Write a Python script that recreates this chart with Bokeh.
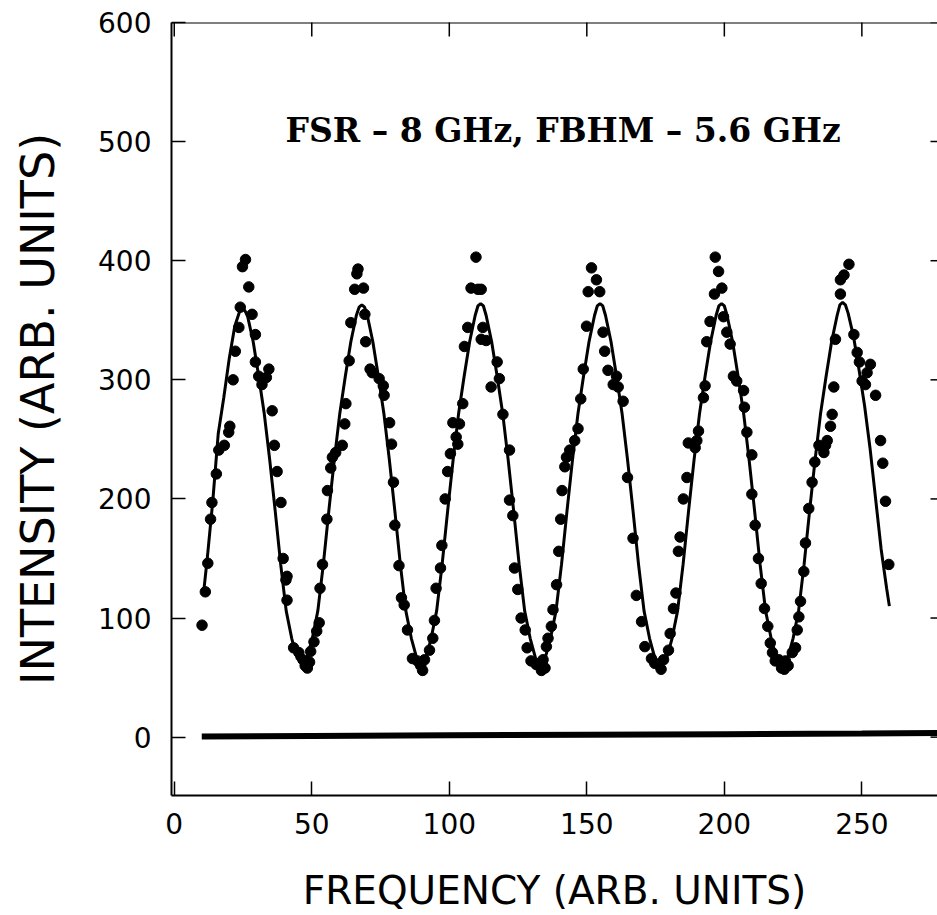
from math import pi
from bokeh.plotting import figure
from bokeh.models import Range1d, Label, FixedTicker, Span
from bokeh.embed import file_html
from bokeh.resources import INLINE

# ---------------- data ----------------
x_ticks = [0, 50, 100, 150, 200, 250]
y_ticks = [0, 100, 200, 300, 400, 500, 600]

# measured intensity (dots)
dots_x = [10.1, 11.3, 12.2, 13.2, 13.7, 15.3, 16.2, 18.2, 19.8, 20.2, 21.4, 22.2, 23.5, 24.0, 24.8, 25.9,
          27.1, 28.3, 29.5, 29.5, 30.7, 31.9, 33.5, 34.4, 35.6, 36.4, 37.4, 38.8, 39.6, 40.6, 41.0, 41.0,
          43.4, 45.3, 46.8, 47.6, 48.4, 49.2, 49.6, 50.8, 51.8, 52.7,
          53.0, 53.9, 55.5, 55.7, 56.9, 57.5, 58.7, 61.1, 62.0, 62.4, 63.6, 64.2, 65.6, 66.4, 66.8, 68.8,
          69.3, 69.6, 71.2, 72.0, 74.5, 76.0, 76.3, 78.3, 79.0, 79.7, 80.2, 81.7, 82.6, 83.6, 84.8, 86.6,
          88.4, 89.6, 90.3, 91.0, 92.8, 94.0, 94.6,
          95.2, 96.8, 97.3, 98.5, 99.4, 100.4, 101.3, 102.5, 103.1, 103.7, 104.9, 105.5, 106.7, 107.9, 109.7,
          110.4, 111.6, 111.6, 112.2, 113.4, 115.2, 117.4, 118.2, 119.5, 121.9, 121.9, 123.1, 123.7, 124.9,
          126.1, 127.6, 128.3, 129.7, 131.6, 132.8, 133.5, 134.1, 134.8, 135.3, 135.9, 137.1, 137.7,
          139.0, 139.8, 140.5, 141.0, 142.0, 142.6, 143.8, 145.6, 146.8, 147.8, 148.7, 149.9, 150.5, 151.7,
          153.5, 154.7, 155.9, 156.5, 157.7, 159.6, 160.8, 161.4, 163.2, 164.8, 166.8, 168.0, 169.9, 171.1,
          173.5, 174.7, 176.0, 177.0, 177.9, 179.7, 180.3,
          181.5, 182.4, 183.3, 183.9, 185.1, 186.4, 186.9, 189.4, 190.0, 190.6, 192.4, 193.0, 193.6, 194.8,
          196.4, 196.7, 197.9, 199.1, 199.7, 200.9, 202.1, 203.3, 204.5, 207.0, 207.3, 208.2, 210.0, 210.0,
          211.2, 212.4, 213.4, 214.6, 215.8, 216.7, 217.5, 218.5, 219.8, 220.8, 221.8, 222.2, 223.2, 224.7,
          225.9, 226.5, 227.1, 227.7,
          228.9, 229.5, 230.7, 231.9, 232.9, 234.4, 236.2, 236.8, 237.4, 238.6, 239.2, 239.8, 240.4, 242.2,
          242.2, 243.5, 245.3, 247.1, 248.3, 249.1, 250.1, 251.3, 251.9, 253.1, 255.0, 256.8, 257.6, 258.6,
          259.8]
dots_y = [94, 122, 146, 183, 197, 221, 241, 245, 256, 261, 300, 324, 344, 361, 395, 401,
          378, 355, 338, 315, 303, 296, 302, 309, 274, 245, 223, 197, 150, 132, 135, 115,
          75, 71, 65, 60, 58, 63, 72, 80, 89, 96,
          125, 145, 183, 207, 226, 235, 239, 245, 263, 280, 316, 348, 376, 389, 393, 377,
          355, 332, 309, 306, 301, 295, 287, 264, 246, 214, 178, 144, 117, 111, 90, 66,
          64, 60, 56, 65, 73, 83, 98,
          125, 142, 161, 200, 223, 238, 264, 252, 246, 263, 280, 328, 344, 377, 403,
          376, 376, 334, 344, 333, 294, 315, 301, 271, 241, 199, 186, 142, 124,
          100, 90, 75, 64, 61, 62, 56, 65, 58, 76, 83, 93, 107,
          128, 156, 183, 207, 227, 235, 241, 249, 259, 284, 309, 345, 374, 394,
          384, 374, 340, 324, 308, 296, 303, 294, 282, 218, 167, 119, 97, 76,
          66, 62, 61, 57, 65, 73, 87,
          108, 121, 156, 168, 200, 218, 247, 243, 249, 257, 285, 295, 332, 349,
          372, 403, 391, 377, 353, 340, 330, 303, 299, 291, 277, 256, 237, 204,
          178, 150, 129, 108, 93, 79, 71, 64, 65, 58, 57, 64, 60, 71,
          75, 90, 101, 114,
          139, 163, 192, 214, 231, 245, 239, 245, 249, 261, 271, 294, 334, 372,
          384, 388, 397, 338, 323, 315, 299, 296, 306, 313, 287, 249, 230, 198,
          145]

# fitted curve (solid line)
fit_x = [10.8, 12.0, 14.0, 16.0, 18.0, 20.0, 22.0, 23.7, 24.7,
         25.7, 26.7, 28.7, 30.7, 32.7, 34.7, 36.7, 38.7, 40.7, 42.7, 44.7, 46.5,
         48.2, 50.2, 52.2, 54.2, 56.2, 58.2, 60.2, 62.2, 64.2, 66.2, 67.2, 68.2,
         69.2, 70.2, 72.2, 74.2, 76.2, 78.2, 80.2, 82.2, 84.2, 86.2, 88.2, 89.8,
         91.4, 93.4, 95.4, 97.4, 99.4, 101.4, 103.4, 105.4, 107.4, 109.4, 110.4, 111.4,
         112.4, 113.4, 115.4, 117.4, 119.4, 121.4, 123.4, 125.4, 127.4, 129.4, 131.4, 133.1,
         134.8, 136.8, 138.8, 140.8, 142.8, 144.8, 146.8, 148.8, 150.8, 152.8, 153.8, 154.8,
         155.8, 156.8, 158.8, 160.8, 162.8, 164.8, 166.8, 168.8, 170.8, 172.8, 174.8, 176.9,
         179.0, 181.0, 183.0, 185.0, 187.0, 189.0, 191.0, 193.0, 195.0, 197.0, 198.0, 199.0,
         200.0, 201.0, 203.0, 205.0, 207.0, 209.0, 211.0, 213.0, 215.0, 217.0, 219.0, 221.0,
         223.0, 225.0, 227.0, 229.0, 231.0, 233.0, 235.0, 237.0, 239.0, 241.0, 242.0, 243.0,
         244.0, 245.0, 247.0, 249.0, 251.0, 253.0, 255.0, 257.0, 259.0, 260.0]
fit_y = [124, 150, 198, 255, 285, 318, 345, 357, 360,
         358, 353, 332, 303, 272, 233, 190, 145, 106, 83, 66, 62,
         66, 83, 106, 145, 190, 233, 272, 303, 332, 354, 361, 363,
         361, 354, 332, 303, 272, 233, 190, 145, 106, 83, 66, 62,
         66, 83, 106, 145, 190, 233, 272, 303, 332, 354, 362, 364,
         362, 354, 332, 303, 272, 233, 190, 145, 106, 83, 66, 62,
         66, 83, 106, 145, 190, 233, 272, 303, 332, 354, 362, 364,
         362, 354, 332, 303, 272, 233, 190, 145, 106, 83, 66, 61,
         66, 83, 106, 145, 190, 233, 272, 303, 332, 354, 362, 364,
         362, 354, 332, 303, 272, 233, 190, 145, 106, 83, 66, 61,
         66, 83, 106, 145, 190, 233, 272, 303, 332, 354, 363, 365,
         363, 356, 336, 308, 278, 242, 200, 158, 125, 110]

# background trace near zero
base_x = [10, 50, 100, 150, 200, 250, 277.5]
base_y = [0.5, 1.0, 1.5, 2.0, 2.5, 3.0, 3.5]

note_text = "FSR – 8 GHz, FBHM – 5.6 GHz"
x_title = "FREQUENCY (ARB. UNITS)"
y_title = "INTENSITY (ARB. UNITS)"

X_START, X_END = -1, 277.5
Y_START, Y_END = -49, 600

# ---------------- figure ----------------
p = figure(width=937, height=915, x_range=Range1d(X_START, X_END), y_range=Range1d(Y_START, Y_END),
           output_backend="svg", toolbar_location=None,
           min_border_left=171, min_border_top=22, min_border_right=0, min_border_bottom=117)
p.outline_line_color = None
p.grid.visible = False
p.background_fill_color = "white"
p.border_fill_color = "white"

for ax, ticks in ((p.xaxis[0], x_ticks), (p.yaxis[0], y_ticks)):
    ax.ticker = FixedTicker(ticks=ticks)
    ax.axis_line_width = 2
    ax.axis_line_color = "black"
    ax.major_tick_in = 14
    ax.major_tick_out = 0
    ax.major_tick_line_width = 1.5
    ax.major_tick_line_color = "black"
    ax.minor_tick_line_color = None
    ax.major_label_text_font = "DejaVu Sans"
    ax.major_label_text_font_size = "28px"
    ax.major_label_text_color = "black"
    ax.axis_label_text_font = "DejaVu Sans"
    ax.axis_label_text_font_style = "normal"
    ax.axis_label_text_color = "black"

p.xaxis[0].major_label_standoff = 17
p.yaxis[0].major_label_standoff = 20

p.xaxis[0].axis_label = x_title
p.xaxis[0].axis_label_text_font_size = "39px"
p.xaxis[0].axis_label_standoff = 31

p.yaxis[0].axis_label = y_title
p.yaxis[0].axis_label_text_font_size = "46px"
p.yaxis[0].axis_label_standoff = 30

# top frame line and inward ticks on the top and right edges (clipped to the frame)
p.add_layout(Span(location=Y_END, dimension="width", line_color="black", line_width=2))
p.scatter(x_ticks, [Y_END] * len(x_ticks), marker="dash", angle=pi / 2, size=28,
          line_color="black", line_width=1.5)
p.scatter([X_END] * len(y_ticks), y_ticks, marker="dash", size=14,
          line_color="black", line_width=1.5)

# background trace
p.line(base_x, base_y, line_color="black", line_width=6)
# fitted curve
p.line(fit_x, fit_y, line_color="black", line_width=3)
# data points
p.scatter(dots_x, dots_y, size=10.5, fill_color="black", line_color="black")

note = Label(x=141.4, y=509.5, text=note_text, text_align="center", text_baseline="alphabetic",
             text_font="DejaVu Serif", text_font_style="bold", text_font_size="33px",
             text_color="black")
p.add_layout(note)

open("out.html", "w").write(file_html(p, INLINE))
